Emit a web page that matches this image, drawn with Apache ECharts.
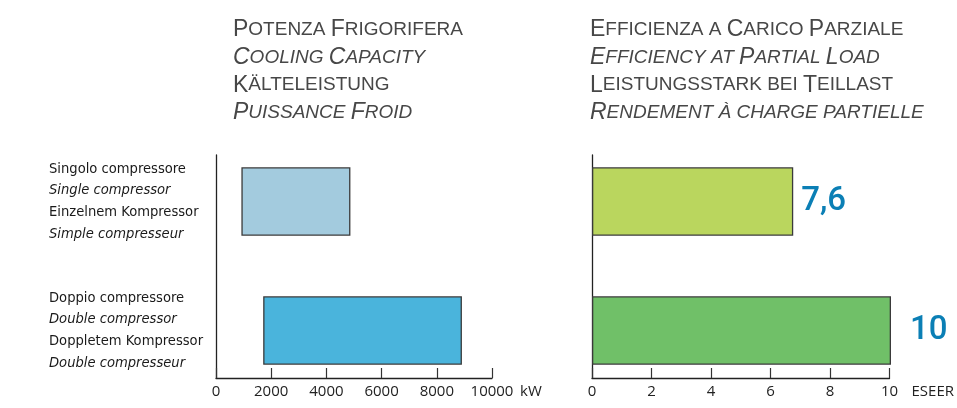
<!DOCTYPE html>
<html>
<head>
<meta charset="utf-8">
<script src="https://cdn.jsdelivr.net/npm/echarts@6/dist/echarts.min.js"></script>
<style>
  html, body { margin: 0; padding: 0; background: #fff; }
  #main { width: 957px; height: 408px; }
</style>
</head>
<body>
<div id="main"></div>
<script>
// rows (top to bottom)
var rowNames = ['Singolo compressore', 'Doppio compressore'];
var rowLabels = [
  ['Singolo compressore', 'Single compressor', 'Einzelnem Kompressor', 'Simple compresseur'],
  ['Doppio compressore', 'Double compressor', 'Doppletem Kompressor', 'Double compresseur']
];

// cooling capacity range, kW
var capacityFrom = [920, 1710];
var capacityTo = [4870, 8910];

// ESEER bars and the figures printed next to them
var eseerBar = [6.73, 10];
var eseerText = ['7,6', '10'];

var leftTitle = ['Potenza Frigorifera', 'Cooling Capacity', 'Kälteleistung', 'Puissance Froid'];
var rightTitle = ['Efficienza a Carico Parziale', 'Efficiency at Partial Load', 'Leistungsstark bei Teillast', 'Rendement à charge partielle'];
var italicLines = [false, true, false, true];

// capital letters stay big, the rest is set as small capitals
function smallCaps(s, italic) {
  var out = '', run = '', runBig = null;
  function flush() {
    if (run) out += '{' + (runBig ? 'B' : 'S') + (italic ? 'I' : '') + '|' + run.toUpperCase() + '}';
    run = '';
  }
  for (var i = 0; i < s.length; i++) {
    var ch = s[i];
    var big = ch !== ch.toLowerCase();
    if (runBig !== null && big !== runBig) flush();
    runBig = big;
    run += ch;
  }
  flush();
  return out;
}
function titleText(lines) {
  return lines.map(function (l, i) { return smallCaps(l, italicLines[i]); }).join('\n');
}

// the row labels are set in a condensed face; use one if it is installed,
// else shrink a regular face so the lines keep their width
var narrow = "'Liberation Sans', sans-serif", narrowSize = 18;
(function () {
  var ctx = document.createElement('canvas').getContext('2d');
  var probe = 'Singolo compressore';
  ctx.font = '18px monospace';
  var base = ctx.measureText(probe).width;
  var names = ['Liberation Sans Narrow', 'DejaVu Sans Condensed', 'Roboto Condensed', 'Open Sans Condensed'];
  for (var i = 0; i < names.length; i++) {
    ctx.font = "18px '" + names[i] + "', monospace";
    if (Math.abs(ctx.measureText(probe).width - base) > 1) { narrow = "'" + names[i] + "', sans-serif"; break; }
  }
  ctx.font = '18px ' + narrow;
  narrowSize = Math.min(18, 18 * 137 / ctx.measureText(probe).width);
})();

var titleFont = "'Liberation Sans', Arial, sans-serif";
function tStyle(size, italic) {
  return { fontFamily: titleFont, fontSize: size, fontWeight: 'normal', color: '#474747',
           lineHeight: 27.7, fontStyle: italic ? 'italic' : 'normal' };
}
var titleRich = { B: tStyle(23), S: tStyle(19), BI: tStyle(23, true), SI: tStyle(19, true) };

var axisFont = "'Open Sans', sans-serif";

function frameX(grid, max, interval, name, gap) {
  return {
    type: 'value', gridIndex: grid, min: 0, max: max, interval: interval,
    axisLine: { show: true, onZero: false, lineStyle: { color: '#222', width: 1.3 } },
    axisTick: { show: true, inside: true, length: 10, lineStyle: { color: '#333', width: 1.2 } },
    axisLabel: { margin: 6, fontFamily: axisFont, fontSize: 15, color: '#222',
                 formatter: function (v) { return String(v); } },
    splitLine: { show: false },
    name: name, nameLocation: 'end', nameGap: gap,
    nameTextStyle: { fontFamily: axisFont, fontSize: 15, color: '#222', verticalAlign: 'top', lineHeight: 28 }
  };
}
function frameY(grid) {
  return {
    type: 'value', gridIndex: grid, min: 0, max: 1,
    axisLine: { show: true, onZero: false, lineStyle: { color: '#222', width: 1.3 } },
    axisTick: { show: false }, axisLabel: { show: false }, splitLine: { show: false }
  };
}

var myChart = echarts.init(document.getElementById('main'));
myChart.setOption({
  animation: false,
  title: [
    { text: titleText(leftTitle), left: 233, top: 16, padding: 0, textStyle: { rich: titleRich } },
    { text: titleText(rightTitle), left: 590, top: 16, padding: 0, textStyle: { rich: titleRich } }
  ],
  grid: [
    { left: 216, width: 276, top: 155, height: 223 },   // left frame
    { left: 216, width: 276, top: 137, height: 258 },   // left bars
    { left: 592, width: 299, top: 155, height: 223 },   // right frame
    { left: 592, width: 299, top: 137, height: 258 }    // right bars
  ],
  xAxis: [
    frameX(0, 10000, 2000, 'kW', 28),
    { type: 'value', gridIndex: 1, min: 0, max: 10000, show: false },
    frameX(2, 10, 2, 'ESEER', 22),
    { type: 'value', gridIndex: 3, min: 0, max: 10, show: false }
  ],
  yAxis: [
    frameY(0),
    {
      type: 'category', gridIndex: 1, inverse: true, data: rowNames,
      axisLine: { show: false }, axisTick: { show: false },
      axisLabel: {
        align: 'left', margin: 167,
        formatter: function (v, i) {
          var L = rowLabels[i];
          return '{n|' + L[0] + '}\n{i|' + L[1] + '}\n{n|' + L[2] + '}\n{i|' + L[3] + '}';
        },
        rich: {
          n: { fontFamily: narrow, fontSize: narrowSize, color: '#1a1a1a', lineHeight: 21.7 },
          i: { fontFamily: narrow, fontSize: narrowSize, color: '#1a1a1a', lineHeight: 21.7, fontStyle: 'italic' }
        }
      }
    },
    frameY(2),
    { type: 'category', gridIndex: 3, inverse: true, data: rowNames, show: false }
  ],
  series: [
    {
      type: 'bar', xAxisIndex: 1, yAxisIndex: 1, stack: 'cap', barWidth: 68.5,
      itemStyle: { color: 'transparent' }, silent: true,
      data: capacityFrom
    },
    {
      type: 'bar', xAxisIndex: 1, yAxisIndex: 1, stack: 'cap', barWidth: 68.5,
      itemStyle: { borderColor: '#3a3a3a', borderWidth: 1.3 },
      data: capacityTo.map(function (v, i) {
        return { value: v - capacityFrom[i], itemStyle: { color: ['#a3cbde', '#4ab4dc'][i] } };
      })
    },
    {
      type: 'bar', xAxisIndex: 3, yAxisIndex: 3, barWidth: 68.5,
      itemStyle: { borderColor: '#3a3a3a', borderWidth: 1.3 },
      label: {
        show: true, position: 'right',
        fontFamily: 'Roboto, sans-serif', fontWeight: 500, fontSize: 33, color: '#0b7fb5',
        formatter: function (p) { return eseerText[p.dataIndex]; }
      },
      data: eseerBar.map(function (v, i) {
        return {
          value: v,
          itemStyle: { color: ['#bad65e', '#70c068'][i] },
          label: { distance: [8, 19][i] }
        };
      })
    }
  ]
});
</script>
</body>
</html>
